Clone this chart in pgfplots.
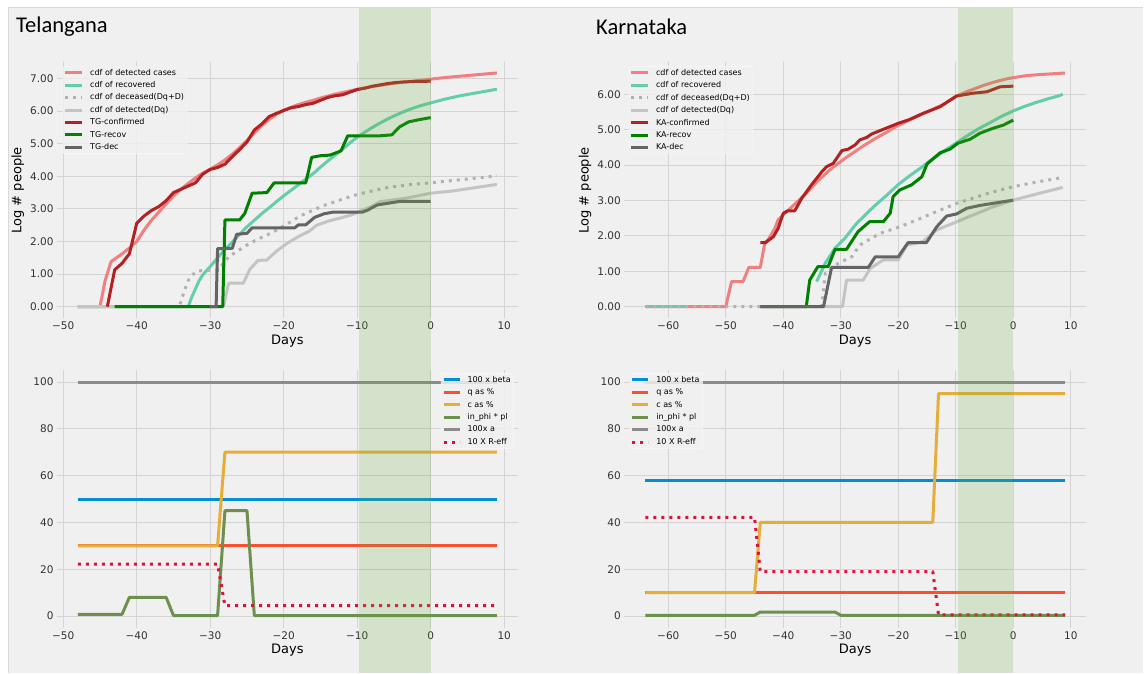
\documentclass[border=0pt]{standalone}
\usepackage{pgfplots}
\pgfplotsset{compat=1.18}
\usepackage{fontspec}
\setmainfont{DejaVu Sans}
\setsansfont{DejaVu Sans}
\newfontfamily\dejavu{DejaVu Sans}
\newfontfamily\calibri{Carlito}
\newcommand\lab{\dejavu\fontsize{13}{15.6}\selectfont}
\newcommand\leg{\dejavu\fontsize{8}{9.6}\selectfont}
\newcommand\tkl{\dejavu\fontsize{10.5}{12.6}\selectfont}
\definecolor{bg}{HTML}{F0F0F0}
\definecolor{gridc}{HTML}{D4D4D4}
\definecolor{legedge}{HTML}{F8F8F8}
\definecolor{ccoral}{RGB}{240,128,128}
\definecolor{cteal}{RGB}{102,205,170}
\definecolor{cdot}{RGB}{178,178,178}
\definecolor{csilver}{RGB}{196,196,196}
\definecolor{cfire}{RGB}{178,34,34}
\definecolor{cgreen}{RGB}{0,128,0}
\definecolor{cdim}{RGB}{100,100,100}
\definecolor{fblue}{HTML}{008FD5}
\definecolor{fred}{HTML}{FC4F30}
\definecolor{fyellow}{HTML}{E5AE38}
\definecolor{fgreen}{HTML}{6D904F}
\definecolor{fgray}{HTML}{8B8B8B}
\definecolor{fcrim}{HTML}{DC143C}
\definecolor{bandc}{RGB}{100,170,60}
\pgfplotsset{
  mystyle/.style={
    scale only axis, clip=false,
    axis line style={draw=none}, major tick length=0pt, tick style={draw=none},
    grid=major, grid style={draw=gridc, line width=0.9pt},
    xticklabel style={font=\tkl, text=black!80},
    yticklabel style={font=\tkl, text=black!80},
    xlabel style={font=\lab, text=black!85},
    ylabel style={font=\lab, text=black!85},
    legend cell align=left,
    legend style={font=\leg, fill=bg, fill opacity=0.85, text opacity=1,
      draw=legedge, rounded corners=2pt, inner xsep=1pt, inner ysep=0.4pt, row sep=0.75pt,
      /tikz/every odd column/.append style={column sep=4.5pt},
      /tikz/every even column/.append style={text height=6.2pt, text depth=1.8pt, inner ysep=2.1pt, inner xsep=2pt}},
    legend image code/.code={\draw[##1] (0pt,0pt) -- (17pt,0pt);},
    every axis plot/.append style={line width=3pt, line join=round},
    every axis x label/.style={at={(axis description cs:0.5,-0.088)}, anchor=center},
    every axis y label/.style={at={(axis description cs:-0.085,0.5)}, rotate=90, anchor=center},
  },
  dotst/.style={cdot, dash pattern=on 3pt off 5pt},
}
\begin{document}
\begin{tikzpicture}
\fill[white] (0pt,0pt) rectangle (1144pt,673pt);
\path[use as bounding box] (0pt,0pt) rectangle (1144pt,673pt);
\fill[bg] (8pt,0pt) rectangle (1143pt,666pt);
\draw[white!85!black, line width=0.6pt] (8pt,0pt) -- (8pt,666pt) -- (1143pt,666pt);
\node[anchor=west, inner sep=0pt, font=\calibri\fontsize{22.5}{26}\selectfont] at (16pt,646.3pt) {Telangana};
\node[anchor=west, inner sep=0pt, font=\calibri\fontsize{22.5}{26}\selectfont] at (596pt,646.3pt) {Karnataka};

% ---------------- Telangana top ----------------
\begin{axis}[mystyle, at={(57pt,354.6pt)}, anchor=south west, width=460.8pt, height=256.2pt,
  xmin=-50.85, xmax=11.85, ymin=-0.36, ymax=7.5,
  xtick={-50,-40,...,10}, xticklabels={−50,−40,−30,−20,−10,0,10},
  ytick={0,1,...,7}, yticklabels={0.00,1.00,2.00,3.00,4.00,5.00,6.00,7.00},
  xlabel={\lab Days}, ylabel={\lab Log \# people},
  legend style={at={(0.012,0.984)}, anchor=north west}]
\addplot[ccoral] coordinates {(-48,0) (-45,0) (-44.3,0.8) (-43.5,1.38) (-42,1.62) (-41,1.8) (-40,2.0) (-39,2.35) (-38,2.65) (-37,2.9) (-36,3.15) (-35,3.4) (-34,3.6) (-33,3.78) (-32,3.95) (-31,4.1) (-30,4.22) (-29,4.35) (-28,4.5) (-27,4.68) (-26,4.88) (-25,5.1) (-24,5.33) (-23,5.55) (-22,5.74) (-21,5.9) (-20,6.02) (-19,6.12) (-18,6.2) (-17,6.27) (-16,6.33) (-15,6.4) (-14,6.46) (-13,6.52) (-12,6.57) (-11,6.62) (-10,6.67) (-8,6.75) (-6,6.82) (-4,6.88) (-2,6.93) (0,6.98) (2,7.03) (4,7.07) (6,7.11) (8,7.15) (9,7.17)};
\addlegendentry{\leg cdf of detected cases}
\addplot[cteal] coordinates {(-48,0) (-33,0) (-32.5,0.3) (-32,0.55) (-31.5,0.8) (-31,0.98) (-30,1.23) (-29,1.5) (-28,1.75) (-27,1.98) (-26,2.22) (-25,2.45) (-24,2.65) (-23,2.85) (-22,3.03) (-21,3.22) (-20,3.4) (-19,3.57) (-18,3.74) (-17,3.91) (-16,4.08) (-15,4.28) (-14,4.47) (-13,4.65) (-12,4.83) (-11,5.02) (-10,5.2) (-9,5.35) (-8,5.49) (-7,5.62) (-6,5.74) (-5,5.85) (-4,5.95) (-3,6.04) (-2,6.12) (-1,6.19) (0,6.25) (1,6.31) (2,6.37) (3,6.42) (4,6.47) (5,6.51) (6,6.55) (7,6.59) (8,6.63) (9,6.67)};
\addlegendentry{\leg cdf of recovered}
\addplot[dotst] coordinates {(-48,0) (-34.2,0) (-33.5,0.5) (-33,0.8) (-32.3,1.0) (-31.5,1.1) (-29,1.12) (-28.3,1.3) (-27.5,1.53) (-26.4,1.69) (-25,1.89) (-23.7,2.05) (-21.6,2.27) (-19.8,2.5) (-17.8,2.78) (-14.6,3.1) (-12,3.3) (-9.85,3.45) (-7,3.6) (-5.5,3.67) (-3,3.74) (0,3.8) (3,3.87) (6,3.94) (9,4.01)};
\addlegendentry{\leg cdf of deceased(Dq+D)}
\addplot[csilver] coordinates {(-48,0) (-28.2,0) (-27.5,0.72) (-25.5,0.72) (-24.6,1.15) (-23.5,1.42) (-22.3,1.43) (-21,1.7) (-19.5,1.95) (-18,2.15) (-16.5,2.32) (-15.5,2.5) (-14,2.62) (-12.3,2.72) (-11,2.8) (-9.85,2.9) (-8,3.08) (-6.9,3.22) (-3.3,3.33) (0,3.48) (3,3.55) (6,3.65) (9,3.75)};
\addlegendentry{\leg cdf of detected(Dq)}
\addplot[cfire] coordinates {(-44,0) (-43,1.13) (-42,1.33) (-41,1.62) (-40,2.56) (-39,2.78) (-38,2.95) (-37,3.07) (-36,3.25) (-35,3.5) (-34,3.6) (-33,3.7) (-32,3.8) (-31,4.07) (-30,4.21) (-29,4.27) (-28,4.37) (-27,4.6) (-26,4.82) (-25,5.05) (-24,5.42) (-23,5.6) (-22,5.83) (-21,5.93) (-20,6.02) (-19,6.1) (-18,6.14) (-17,6.2) (-16,6.24) (-15,6.33) (-14,6.42) (-13,6.47) (-12,6.5) (-11,6.58) (-10,6.66) (-9,6.7) (-8,6.76) (-7,6.8) (-6,6.84) (-5,6.87) (-4,6.89) (-3,6.9) (-2,6.91) (-1,6.91) (0,6.92)};
\addlegendentry{\leg TG-confirmed}
\addplot[cgreen] coordinates {(-43,0) (-28.3,0) (-28,2.66) (-26,2.66) (-25.3,2.86) (-24.3,3.48) (-22.3,3.5) (-21.3,3.8) (-17,3.8) (-16.2,4.58) (-15,4.63) (-13.7,4.65) (-12.2,4.78) (-11.3,5.24) (-7,5.24) (-5.3,5.27) (-4.2,5.52) (-3,5.67) (-1.5,5.74) (0,5.8)};
\addlegendentry{\leg TG-recov}
\addplot[cdim] coordinates {(-30,0) (-29.2,0) (-29,1.78) (-27,1.79) (-26.4,2.22) (-25,2.25) (-24.3,2.42) (-18.5,2.42) (-18,2.51) (-17,2.51) (-15.8,2.74) (-14.5,2.85) (-13.3,2.9) (-9.3,2.9) (-8.5,2.97) (-7.3,3.12) (-5.3,3.19) (-4.2,3.23) (0,3.23)};
\addlegendentry{\leg TG-dec}
\addplot[draw=none, fill=bandc, fill opacity=0.2, forget plot] coordinates {(-9.75,-1.144) (0,-1.144) (0,9.16) (-9.75,9.16)} -- cycle;
\end{axis}

% ---------------- Karnataka top ----------------
\begin{axis}[mystyle, at={(624.3pt,354.6pt)}, anchor=south west, width=461.7pt, height=256pt,
  xmin=-67.65, xmax=12.65, ymin=-0.33, ymax=6.9,
  xtick={-60,-50,...,10}, xticklabels={−60,−50,−40,−30,−20,−10,0,10},
  ytick={0,1,...,6}, yticklabels={0.00,1.00,2.00,3.00,4.00,5.00,6.00},
  xlabel={\lab Days}, ylabel={\lab Log \# people},
  legend style={at={(0.0087,0.984)}, anchor=north west}]
\addplot[ccoral] coordinates {(-64,0) (-50,0) (-49,0.71) (-47,0.71) (-46,1.11) (-44,1.11) (-43.2,1.81) (-42.6,1.9) (-41.5,2.2) (-40.9,2.45) (-40,2.6) (-38.5,2.82) (-37,3.05) (-36,3.2) (-35,3.38) (-34,3.55) (-33,3.7) (-32,3.85) (-31,3.98) (-30,4.1) (-29,4.22) (-28,4.33) (-27,4.44) (-26,4.55) (-25,4.65) (-24,4.75) (-23,4.84) (-22,4.93) (-21,5.03) (-20,5.12) (-19,5.2) (-18,5.28) (-17,5.35) (-16,5.43) (-15,5.5) (-14,5.57) (-13,5.65) (-12,5.73) (-11,5.83) (-10,5.94) (-9,6.01) (-8,6.08) (-7,6.14) (-6,6.2) (-5,6.26) (-4,6.31) (-3,6.36) (-2,6.4) (-1,6.44) (0,6.47) (2,6.52) (4,6.55) (6,6.57) (8,6.59) (9,6.6)};
\addlegendentry{\leg cdf of detected cases}
\addplot[cteal, forget plot] coordinates {(-64,0) (-57,0)};
\addplot[cteal] coordinates {(-34.2,0.71) (-33.5,0.95) (-32.7,1.23) (-31,1.65) (-30,1.82) (-29.3,1.93) (-28,2.2) (-27.2,2.36) (-26,2.55) (-24.3,2.82) (-22,3.15) (-20,3.45) (-18,3.7) (-16,3.93) (-14.5,4.12) (-12,4.4) (-9.85,4.63) (-8,4.83) (-6,5.03) (-4,5.2) (-2,5.38) (0,5.53) (2,5.66) (4,5.77) (6,5.87) (8,5.96) (8.6,6.0)};
\addlegendentry{\leg cdf of recovered}
\addplot[dotst] coordinates {(-64,0) (-33.3,0) (-32.7,0.94) (-30.4,1.23) (-28.1,1.41) (-26.7,1.74) (-23.2,2.07) (-20,2.24) (-16.8,2.45) (-12.7,2.73) (-9.85,2.92) (-4.05,3.22) (0,3.39) (4,3.52) (8.6,3.65)};
\addlegendentry{\leg cdf of deceased(Dq+D)}
\addplot[csilver] coordinates {(-44,0) (-29.7,0) (-29,0.75) (-26.1,0.75) (-24.9,1.08) (-22.6,1.32) (-20,1.32) (-18.5,1.74) (-15.7,1.84) (-13.3,2.17) (-10.4,2.36) (-7,2.59) (-3.5,2.82) (0,3.01) (4,3.18) (8.6,3.37)};
\addlegendentry{\leg cdf of detected(Dq)}
\addplot[cfire] coordinates {(-44,1.81) (-43.1,1.81) (-41.7,1.98) (-40.9,2.21) (-40,2.64) (-39.2,2.71) (-38,2.71) (-36.8,3.06) (-35.1,3.44) (-33.3,3.81) (-32.5,3.95) (-31.3,4.05) (-29.8,4.41) (-28.7,4.45) (-27.5,4.57) (-26.7,4.71) (-25.5,4.78) (-24.6,4.88) (-22.6,5.01) (-20,5.18) (-18,5.29) (-15.7,5.46) (-12.7,5.65) (-11.5,5.78) (-9.85,5.95) (-7,6.03) (-4.6,6.07) (-2.3,6.21) (0,6.23)};
\addlegendentry{\leg KA-confirmed}
\addplot[cgreen] coordinates {(-44,0) (-36,0) (-35.4,0.75) (-34,1.13) (-32.2,1.13) (-31,1.62) (-29,1.62) (-27,2.12) (-25,2.4) (-22.6,2.4) (-21.4,2.64) (-20.9,3.11) (-19.7,3.3) (-17.7,3.44) (-15.9,3.67) (-15,4.03) (-12.7,4.35) (-11,4.45) (-9.6,4.62) (-7.5,4.73) (-5.8,4.9) (-3.5,5.04) (-1.7,5.13) (0,5.27)};
\addlegendentry{\leg KA-recov}
\addplot[cdim] coordinates {(-44,0) (-33,0) (-31.6,1.11) (-25.2,1.11) (-24,1.41) (-20,1.41) (-18.3,1.81) (-15.1,1.81) (-13.3,2.26) (-11.6,2.56) (-9.85,2.62) (-8.1,2.78) (-5.8,2.86) (-3.5,2.92) (0,3.01)};
\addlegendentry{\leg KA-dec}
\addplot[draw=none, fill=bandc, fill opacity=0.2, forget plot] coordinates {(-9.6,-1.054) (0,-1.054) (0,8.44) (-9.6,8.44)} -- cycle;
\end{axis}

% ---------------- Telangana bottom ----------------
\begin{axis}[mystyle, at={(57pt,45.3pt)}, anchor=south west, width=460.8pt, height=257.4pt,
  xmin=-50.85, xmax=11.85, ymin=-5, ymax=105,
  xtick={-50,-40,...,10}, xticklabels={−50,−40,−30,−20,−10,0,10},
  ytick={0,20,...,100}, yticklabels={0,20,40,60,80,100},
  xlabel={\lab Days},
  legend image code/.code={\draw[#1] (0pt,0pt) -- (16pt,0pt);},
  legend style={at={(0.833,0.988)}, anchor=north west}]
\addplot[fblue] coordinates {(-48,50) (9,50)};
\addlegendentry{\leg 100 x beta}
\addplot[fred] coordinates {(-48,30) (9,30)};
\addlegendentry{\leg q as \%}
\addplot[fyellow] coordinates {(-48,30) (-29,30) (-28,70) (9,70)};
\addlegendentry{\leg c as \%}
\addplot[fgreen] coordinates {(-48,0.7) (-42,0.7) (-41,8) (-36,8) (-35,0.2) (-29,0.2) (-28,45) (-25,45) (-24,0.2) (9,0.2)};
\addlegendentry{\leg in\_phi * pl}
\addplot[fgray] coordinates {(-48,100) (9,100)};
\addlegendentry{\leg 100x a}
\addplot[fcrim, dash pattern=on 3pt off 5pt] coordinates {(-48,22.2) (-29,22.2) (-28,4.4) (9,4.4)};
\addlegendentry{\leg 10 X R-eff}
\addplot[draw=none, fill=bandc, fill opacity=0.2, forget plot] coordinates {(-9.75,-24.4) (0,-24.4) (0,116.2) (-9.75,116.2)} -- cycle;
\end{axis}

% ---------------- Karnataka bottom ----------------
\begin{axis}[mystyle, at={(624.3pt,45.3pt)}, anchor=south west, width=461.7pt, height=257.4pt,
  xmin=-67.65, xmax=12.65, ymin=-5, ymax=105,
  xtick={-60,-50,...,10}, xticklabels={−60,−50,−40,−30,−20,−10,0,10},
  ytick={0,20,...,100}, yticklabels={0,20,40,60,80,100},
  xlabel={\lab Days},
  legend image code/.code={\draw[#1] (0pt,0pt) -- (16pt,0pt);},
  legend style={at={(0.0115,0.988)}, anchor=north west}]
\addplot[fblue] coordinates {(-64,58) (9,58)};
\addlegendentry{\leg 100 x beta}
\addplot[fred] coordinates {(-64,10) (9,10)};
\addlegendentry{\leg q as \%}
\addplot[fyellow] coordinates {(-64,10) (-45,10) (-44,40) (-14,40) (-13,95) (9,95)};
\addlegendentry{\leg c as \%}
\addplot[fgreen] coordinates {(-64,0.3) (-45,0.3) (-44,1.7) (-31,1.7) (-30,0.3) (9,0.3)};
\addlegendentry{\leg in\_phi * pl}
\addplot[fgray] coordinates {(-64,100) (9,100)};
\addlegendentry{\leg 100x a}
\addplot[fcrim, dash pattern=on 3pt off 5pt] coordinates {(-64,42.2) (-45,42.2) (-44,19) (-14,19) (-13,0.5) (9,0.5)};
\addlegendentry{\leg 10 X R-eff}
\addplot[draw=none, fill=bandc, fill opacity=0.2, forget plot] coordinates {(-9.6,-24.4) (0,-24.4) (0,116.2) (-9.6,116.2)} -- cycle;
\end{axis}
\end{tikzpicture}
\end{document}
